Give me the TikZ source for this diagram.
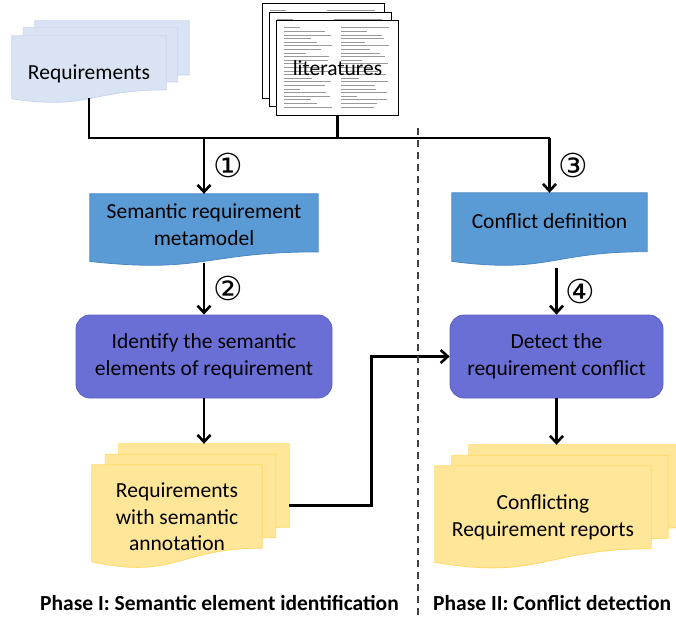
\documentclass[tikz,border=0pt]{standalone}
\usepackage{fontspec}
\setmainfont{Carlito}
\newfontfamily\circfont{DejaVu Sans}
\usetikzlibrary{arrows.meta,calc,backgrounds}

\definecolor{reqblue}{HTML}{DAE3F3}
\definecolor{reqedge}{HTML}{C7D5EE}
\definecolor{metablue}{HTML}{5B9BD5}
\definecolor{metaedge}{HTML}{4A88C4}
\definecolor{stepviolet}{HTML}{6A6FD6}
\definecolor{stepedge}{HTML}{5A5FC2}
\definecolor{outyellow}{HTML}{FFE699}
\definecolor{outedge}{HTML}{FFD966}

% document shape with a wavy bottom, taken from the box of a node
\newcommand{\docsheet}[4]{%
  \path[#4] let \p1=([shift={(#2,#3)}]#1.north west),
                \p2=([shift={(#2,#3)}]#1.south east) in
    (\x1,\y1) -- (\x2,\y1) -- (\x2,{\y1+0.802*(\y2-\y1)})
    .. controls ({0.5*(\x1+\x2)},{\y1+0.802*(\y2-\y1)})
            and ({0.5*(\x1+\x2)},{\y1+1.107*(\y2-\y1)}) ..
    (\x1,{\y1+0.934*(\y2-\y1)}) -- cycle;}

% printed page of a paper
\newcommand{\litsheet}[3]{%
  \draw[papersheet] ([shift={(#2,#3)}]#1.north west) rectangle ([shift={(#2,#3)}]#1.south east);
  \foreach \r in {0,...,22}{
    \pgfmathsetmacro\la{16+32*abs(sin(\r*53))}
    \pgfmathsetmacro\lb{16+32*abs(cos(\r*71))}
    \draw[print] ([shift={(#2+7,#3+7+\r*3.6)}]#1.north west) -- ++(\la,0);
    \draw[print] ([shift={(#2+64,#3+7+\r*3.6)}]#1.north west) -- ++(\lb,0);
  }}

\tikzset{
  txt/.style={font=\fontsize{21.5}{26.5}\selectfont, align=center, inner sep=0pt},
  phase/.style={font=\bfseries\fontsize{21.5}{25}\selectfont, inner sep=0pt},
  reqsheet/.style={fill=reqblue, draw=reqedge, line width=0.8pt},
  metasheet/.style={fill=metablue, draw=metaedge, line width=0.8pt},
  outsheet/.style={fill=outyellow, draw=outedge, line width=0.8pt},
  papersheet/.style={fill=white, draw=black, line width=1.2pt},
  print/.style={line width=0.9pt, black!40},
  stepbox/.style={txt, rounded corners=14pt, fill=stepviolet, draw=stepedge, line width=0.8pt}
}

\begin{document}
\begin{tikzpicture}[x=1pt,y=-1pt,
  line/.style={line width=2.6pt},
  flow/.style={line, -{Straight Barb[length=7pt,width=13pt]}},
  num/.style={font=\circfont\fontsize{33}{33}\selectfont, inner sep=0pt, right, xshift=8pt},
  divider/.style={line width=1.2pt, black!75, dash pattern=on 7pt off 5pt}]
\useasboundingbox (0,0) rectangle (676,619);

% inputs
\node[txt, text height=23pt, minimum width=154, minimum height=67] (req) at (89,69.5) {Requirements};
\node[txt, minimum width=121, minimum height=94] (lit) at (337.5,68) {literatures};

% phase I
\node[txt, text depth=11pt, minimum width=228, minimum height=72] (sem) at (204,230) {Semantic requirement\\metamodel};
\node[stepbox, minimum width=256, minimum height=83] (idf) at (204,356.5) {Identify the semantic\\elements of requirement};
\node[txt, minimum width=170, minimum height=103.5] (ann) at (177,516.75) {Requirements\\with semantic\\annotation};

% phase II
\node[txt, text depth=17pt, minimum width=195, minimum height=73] (cdef) at (549.5,229.5) {Conflict definition};
\node[stepbox, minimum width=213, minimum height=83] (det) at (556.5,356.5) {Detect the\\requirement conflict};
\node[txt, minimum width=216, minimum height=103] (rep) at (543,517.5) {Conflicting\\Requirement reports};

\begin{pgfonlayer}{background}
  \docsheet{req}{23}{-15}{reqsheet}
  \docsheet{req}{11.5}{-8}{reqsheet}
  \docsheet{req}{0}{0}{reqsheet}
  \litsheet{lit}{-14}{-17}
  \litsheet{lit}{-7}{-8.5}
  \litsheet{lit}{0}{0}
  \docsheet{sem}{0}{0}{metasheet}
  \docsheet{cdef}{0}{0}{metasheet}
  \docsheet{ann}{27}{-21}{outsheet}
  \docsheet{ann}{13.5}{-10.5}{outsheet}
  \docsheet{ann}{0}{0}{outsheet}
  \docsheet{rep}{34}{-21}{outsheet}
  \docsheet{rep}{17}{-10.5}{outsheet}
  \docsheet{rep}{0}{0}{outsheet}
\end{pgfonlayer}

\coordinate (bus) at (0,138);
\coordinate (req-out) at ($(req.north)!0.93!(req.south)$);
\coordinate (sem-out) at ($(sem.north)!0.95!(sem.south)$);
\coordinate (cdef-out) at ($(cdef.north)!1.03!(cdef.south)$);
\coordinate (ann-top) at ([shift={(27,-21)}]ann.north);
\coordinate (rep-top) at ([shift={(34,-21)}]rep.north);
\coordinate (ann-out) at ([shift={(27,-11)}]ann.east);

\draw[line] (req-out) |- (cdef.north |- bus);
\draw[line] (lit.south) -- (lit.south |- bus);
\draw[flow] (sem.north |- bus) -- node[num]{①} (sem.north);
\draw[flow] (cdef.north |- bus) -- node[num]{③} (cdef.north);
\draw[flow] (sem-out) -- node[num]{②} (idf.north);
\draw[flow] (cdef-out -| det.north) -- node[num]{④} (det.north);
\draw[flow] (idf.south) -- (idf.south |- ann-top);
\draw[flow] (det.south) -- (det.south |- rep-top);
\draw[flow] (ann-out) -- ++(82,0) |- (det.west);

% the two phases
\coordinate (div-top) at (418,128);
\coordinate (div-bot) at (418,619);
\draw[divider] (div-top) -- (div-bot);
\node[phase, anchor=west] (ph1) at (40,603) {Phase I: Semantic element identification};
\node[phase, anchor=west] (ph2) at (433,603) {Phase II: Conflict detection};
\end{tikzpicture}
\end{document}
